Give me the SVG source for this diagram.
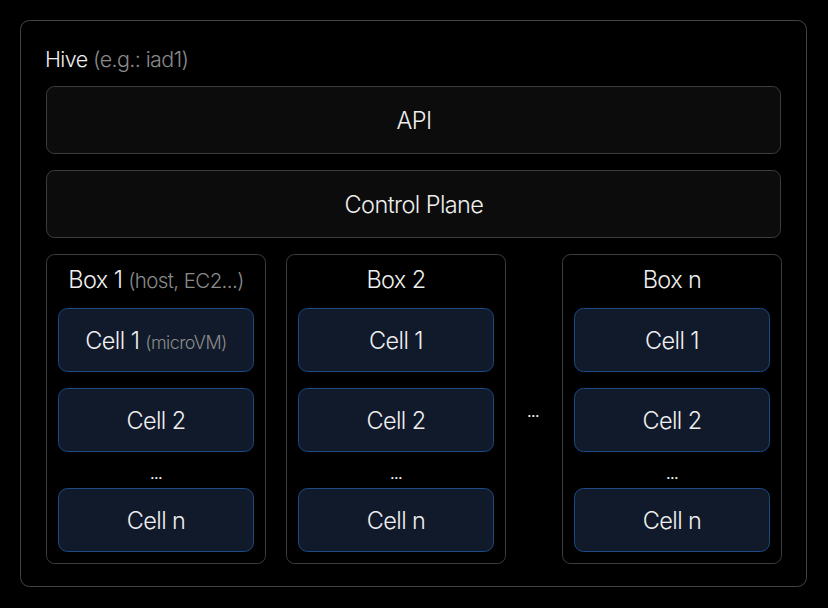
<svg xmlns="http://www.w3.org/2000/svg" width="828" height="608" viewBox="0 0 828 608">
<style>
text{font-family:Inter,"Noto Sans","Liberation Sans",sans-serif;fill:#efefef;font-size:23.5px;font-weight:300;text-anchor:middle;letter-spacing:-0.6px}
.sub{fill:#8a8a8a;font-size:20.5px}
.sub2{fill:#8a8a8a;font-size:18px}
.panel{fill:#0c0c0c;stroke:#3d3d3d;stroke-width:1}
.box{fill:#000;stroke:#3d3d3d;stroke-width:1}
.cell{fill:#111a2b;stroke:#1c4a85;stroke-width:1}
.dots{font-size:16px;font-weight:400}
</style>
<rect width="828" height="608" fill="#000"/>
<g id="hive">
<rect x="20.5" y="20.5" width="786" height="566" rx="9" fill="#000" stroke="#444" stroke-width="1"/>
<text x="45" y="67" style="text-anchor:start;font-size:21.5px">Hive <tspan class="sub" style="font-size:21.5px">(e.g.: iad1)</tspan></text>
</g>
<g id="api">
<rect class="panel" x="46.5" y="86.5" width="734" height="67" rx="8"/>
<text x="414" y="129">API</text>
</g>
<g id="control-plane">
<rect class="panel" x="46.5" y="170.5" width="734" height="67" rx="8"/>
<text x="414" y="213">Control Plane</text>
</g>
<g id="box1">
<rect class="box" x="46.5" y="254.5" width="219" height="309" rx="8"/>
<text x="156" y="288">Box 1 <tspan class="sub">(host, EC2...)</tspan></text>
</g>
<g id="box1-cell1"><rect class="cell" x="58.5" y="308.5" width="195" height="63" rx="9"/><text x="156" y="349">Cell 1 <tspan class="sub2">(microVM)</tspan></text></g>
<g id="box1-cell2"><rect class="cell" x="58.5" y="388.5" width="195" height="63" rx="9"/><text x="156" y="429">Cell 2</text></g>
<text class="dots" x="156" y="479">...</text>
<g id="box1-celln"><rect class="cell" x="58.5" y="488.5" width="195" height="63" rx="9"/><text x="156" y="529">Cell n</text></g>
<g id="box2">
<rect class="box" x="286.5" y="254.5" width="219" height="309" rx="8"/>
<text x="396" y="288">Box 2</text>
</g>
<g id="box2-cell1"><rect class="cell" x="298.5" y="308.5" width="195" height="63" rx="9"/><text x="396" y="349">Cell 1</text></g>
<g id="box2-cell2"><rect class="cell" x="298.5" y="388.5" width="195" height="63" rx="9"/><text x="396" y="429">Cell 2</text></g>
<text class="dots" x="396" y="479">...</text>
<g id="box2-celln"><rect class="cell" x="298.5" y="488.5" width="195" height="63" rx="9"/><text x="396" y="529">Cell n</text></g>
<text class="dots" x="533" y="417">...</text>
<g id="boxn">
<rect class="box" x="562.5" y="254.5" width="219" height="309" rx="8"/>
<text x="672" y="288">Box n</text>
</g>
<g id="boxn-cell1"><rect class="cell" x="574.5" y="308.5" width="195" height="63" rx="9"/><text x="672" y="349">Cell 1</text></g>
<g id="boxn-cell2"><rect class="cell" x="574.5" y="388.5" width="195" height="63" rx="9"/><text x="672" y="429">Cell 2</text></g>
<text class="dots" x="672" y="479">...</text>
<g id="boxn-celln"><rect class="cell" x="574.5" y="488.5" width="195" height="63" rx="9"/><text x="672" y="529">Cell n</text></g>
<g id="connectors"></g>
</svg>
